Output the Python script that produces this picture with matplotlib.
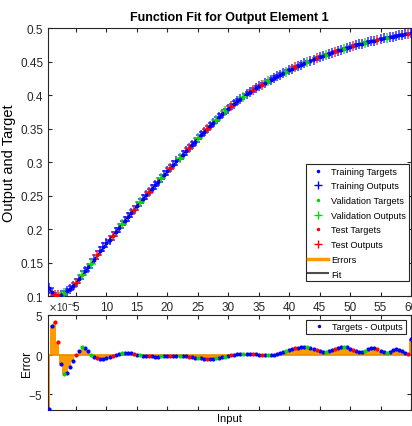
import numpy as np
import matplotlib
matplotlib.use("Agg")
import matplotlib.pyplot as plt
from matplotlib.lines import Line2D
from matplotlib.ticker import FuncFormatter, ScalarFormatter

NARROW = ['DejaVu Sans Condensed', 'Liberation Sans Narrow', 'Liberation Sans', 'DejaVu Sans']
plt.rcParams['font.family'] = NARROW
plt.rcParams['axes.unicode_minus'] = False

# input samples
inputs = np.arange(0.5, 60.01, 0.5)

# targets
targets = [
    0.1115, 0.1055, 0.1020, 0.1010, 0.1018, 0.1040, 0.1070, 0.1105, 0.1150, 0.1200,
    0.1255, 0.1310, 0.1368, 0.1426, 0.1485, 0.1545, 0.1605, 0.1665, 0.1725, 0.1785,
    0.1843, 0.1900, 0.1957, 0.2013, 0.2069, 0.2125, 0.2180, 0.2235, 0.2290, 0.2345,
    0.2398, 0.2450, 0.2502, 0.2553, 0.2604, 0.2655, 0.2706, 0.2757, 0.2808, 0.2860,
    0.2910, 0.2960, 0.3010, 0.3060, 0.3110, 0.3158, 0.3207, 0.3256, 0.3305, 0.3355,
    0.3403, 0.3450, 0.3497, 0.3543, 0.3588, 0.3632, 0.3675, 0.3717, 0.3758, 0.3797,
    0.3835, 0.3872, 0.3908, 0.3943, 0.3977, 0.4010, 0.4042, 0.4072, 0.4101, 0.4128,
    0.4154, 0.4180, 0.4205, 0.4229, 0.4253, 0.4277, 0.4300, 0.4323, 0.4346, 0.4369,
    0.4392, 0.4413, 0.4433, 0.4453, 0.4473, 0.4493, 0.4512, 0.4531, 0.4550, 0.4569,
    0.4586, 0.4603, 0.4619, 0.4635, 0.4650, 0.4665, 0.4679, 0.4693, 0.4706, 0.4719,
    0.4732, 0.4744, 0.4756, 0.4768, 0.4780, 0.4791, 0.4802, 0.4813, 0.4824, 0.4835,
    0.4845, 0.4855, 0.4864, 0.4873, 0.4882, 0.4891, 0.4899, 0.4907, 0.4915, 0.4922,
]

# targets - outputs, in units of 1e-4
errors_e4 = [
    -6.9, 3.6, 4.1, 1.6, -1.2, -2.4, -2.3, -1.6, -0.8, -0.1,
    0.5, 0.9, 0.8, 0.4, 0.0, -0.3, -0.45, -0.5, -0.5, -0.45,
    -0.35, -0.2, -0.05, 0.08, 0.15, 0.2, 0.2, 0.15, 0.08, 0.0,
    -0.08, -0.15, -0.2, -0.22, -0.24, -0.25, -0.25, -0.22, -0.18, -0.15,
    -0.13, -0.12, -0.12, -0.13, -0.15, -0.2, -0.26, -0.32, -0.38, -0.43,
    -0.47, -0.5, -0.52, -0.52, -0.5, -0.45, -0.4, -0.32, -0.25, -0.18,
    -0.1, -0.04, 0.02, 0.06, 0.09, 0.1, 0.1, 0.07, 0.03, -0.02,
    -0.06, -0.08, -0.08, -0.05, 0.0, 0.08, 0.18, 0.3, 0.42, 0.55,
    0.68, 0.78, 0.87, 0.93, 0.95, 0.93, 0.85, 0.73, 0.58, 0.45,
    0.36, 0.34, 0.4, 0.52, 0.68, 0.82, 0.92, 0.95, 0.9, 0.75,
    0.55, 0.4, 0.33, 0.35, 0.48, 0.66, 0.8, 0.82, 0.7, 0.48,
    0.3, 0.25, 0.35, 0.52, 0.65, 0.62, 0.42, 0.15, 0.05, 2.0,
]

val_idx = [5, 11, 14, 24, 30, 37, 43, 49, 55, 58, 64, 72, 78, 85, 91, 97, 104, 111]
test_idx = [2, 3, 9, 16, 21, 28, 33, 40, 46, 52, 60, 67, 70, 81, 88, 94, 100, 108, 118]

targets = np.array(targets)
errors = np.array(errors_e4) * 1e-4
outputs = targets - errors

n = len(inputs)
train_idx = [i for i in range(n) if i not in val_idx and i not in test_idx]

ORANGE = (1.0, 0.6, 0.0)
GREEN = (0, 0.85, 0)
AX_COLOR = (0.15, 0.15, 0.15)

fig = plt.figure(figsize=(4.12, 4.27), dpi=100)
ax1 = fig.add_axes([0.1165, 0.3044, 0.881, 0.6276])
ax2 = fig.add_axes([0.1165, 0.0375, 0.881, 0.2225])

# --- upper panel ---
ax1.plot(inputs, outputs, color='black', lw=1.0, zorder=2)
sets = [(train_idx, 'blue'), (val_idx, GREEN), (test_idx, 'red')]
for idx, col in sets:
    ax1.plot(inputs[idx], outputs[idx], '+', color=col, ms=7, mew=1.2, ls='none', alpha=0.75, zorder=3)
for idx, col in sets:
    ax1.plot(inputs[idx], targets[idx], '.', color=col, ms=3.5, ls='none', zorder=4)

ax1.set_xlim(0.4, 60)
ax1.set_ylim(0.1, 0.5)
ax1.set_xticks(np.arange(5, 61, 5))
ax1.set_yticks(np.arange(0.1, 0.501, 0.05))
ax1.yaxis.set_major_formatter(FuncFormatter(lambda v, p: f"{v:g}"))
ax1.tick_params(direction='in', top=True, right=True, labelsize=8.5, colors=AX_COLOR, length=3)
ax1.set_title('Function Fit for Output Element 1', fontsize=9, fontweight='bold', pad=6)
ax1.set_ylabel('Output and Target', fontsize=10.5, family=['Liberation Sans', 'DejaVu Sans'], labelpad=3)

handles = [
    Line2D([], [], marker='.', color='blue', ls='none', ms=3),
    Line2D([], [], marker='+', color='blue', ls='none', ms=6),
    Line2D([], [], marker='.', color=GREEN, ls='none', ms=3),
    Line2D([], [], marker='+', color=GREEN, ls='none', ms=6),
    Line2D([], [], marker='.', color='red', ls='none', ms=3),
    Line2D([], [], marker='+', color='red', ls='none', ms=6),
    Line2D([], [], color=ORANGE, lw=2.5),
    Line2D([], [], color=(0.3, 0.3, 0.3), lw=1.5),
]
labels = ['Training Targets', 'Training Outputs', 'Validation Targets', 'Validation Outputs',
          'Test Targets', 'Test Outputs', 'Errors', 'Fit']
leg = ax1.legend(handles, labels, loc='lower right', fontsize=6.6, fancybox=False, framealpha=1,
                 edgecolor=AX_COLOR, handlelength=2.2, handletextpad=0.3, labelspacing=0.62,
                 borderpad=0.3, borderaxespad=0, bbox_to_anchor=(0.994, 0.055))
leg.get_frame().set_linewidth(0.8)

# --- lower panel ---
ax2.bar(inputs, errors, width=0.5, color=ORANGE, linewidth=0, zorder=2)
ax2.axhline(0, color=(0.9, 0.55, 0.0), lw=1.2, zorder=2)
for idx, col in sets:
    ax2.plot(inputs[idx], errors[idx], '.', color=col, ms=4, ls='none', zorder=3)
ax2.set_xlim(0.4, 60)
ax2.set_ylim(-7e-4, 5e-4)
ax2.set_xticks(np.arange(5, 61, 5))
ax2.set_xticklabels([])
ax2.set_yticks([-5e-4, 0, 5e-4])
fmt = ScalarFormatter(useMathText=True)
fmt.set_powerlimits((-3, 3))
ax2.yaxis.set_major_formatter(fmt)
ax2.yaxis.get_offset_text().set_fontsize(7)
ax2.tick_params(direction='in', top=True, right=True, labelsize=8.5, colors=AX_COLOR, length=3)
ax2.set_ylabel('Error', fontsize=8.5, family=['Liberation Sans', 'DejaVu Sans'])
ax2.yaxis.set_label_coords(-0.04, 0.5)
ax2.set_xlabel('Input', fontsize=8)
ax2.xaxis.set_label_coords(0.5, -0.03)
leg2 = ax2.legend([Line2D([], [], marker='.', color='blue', ls='none', ms=3)], ['Targets - Outputs'],
                  loc='upper right', fontsize=6.6, fancybox=False, framealpha=1, edgecolor=AX_COLOR,
                  handlelength=2.2, handletextpad=0.3, borderpad=0.3, borderaxespad=0,
                  bbox_to_anchor=(0.985, 0.95))
leg2.get_frame().set_linewidth(0.8)

for ax in (ax1, ax2):
    for s in ax.spines.values():
        s.set_color(AX_COLOR)
        s.set_linewidth(0.8)

fig.savefig('out.png', dpi=100)
